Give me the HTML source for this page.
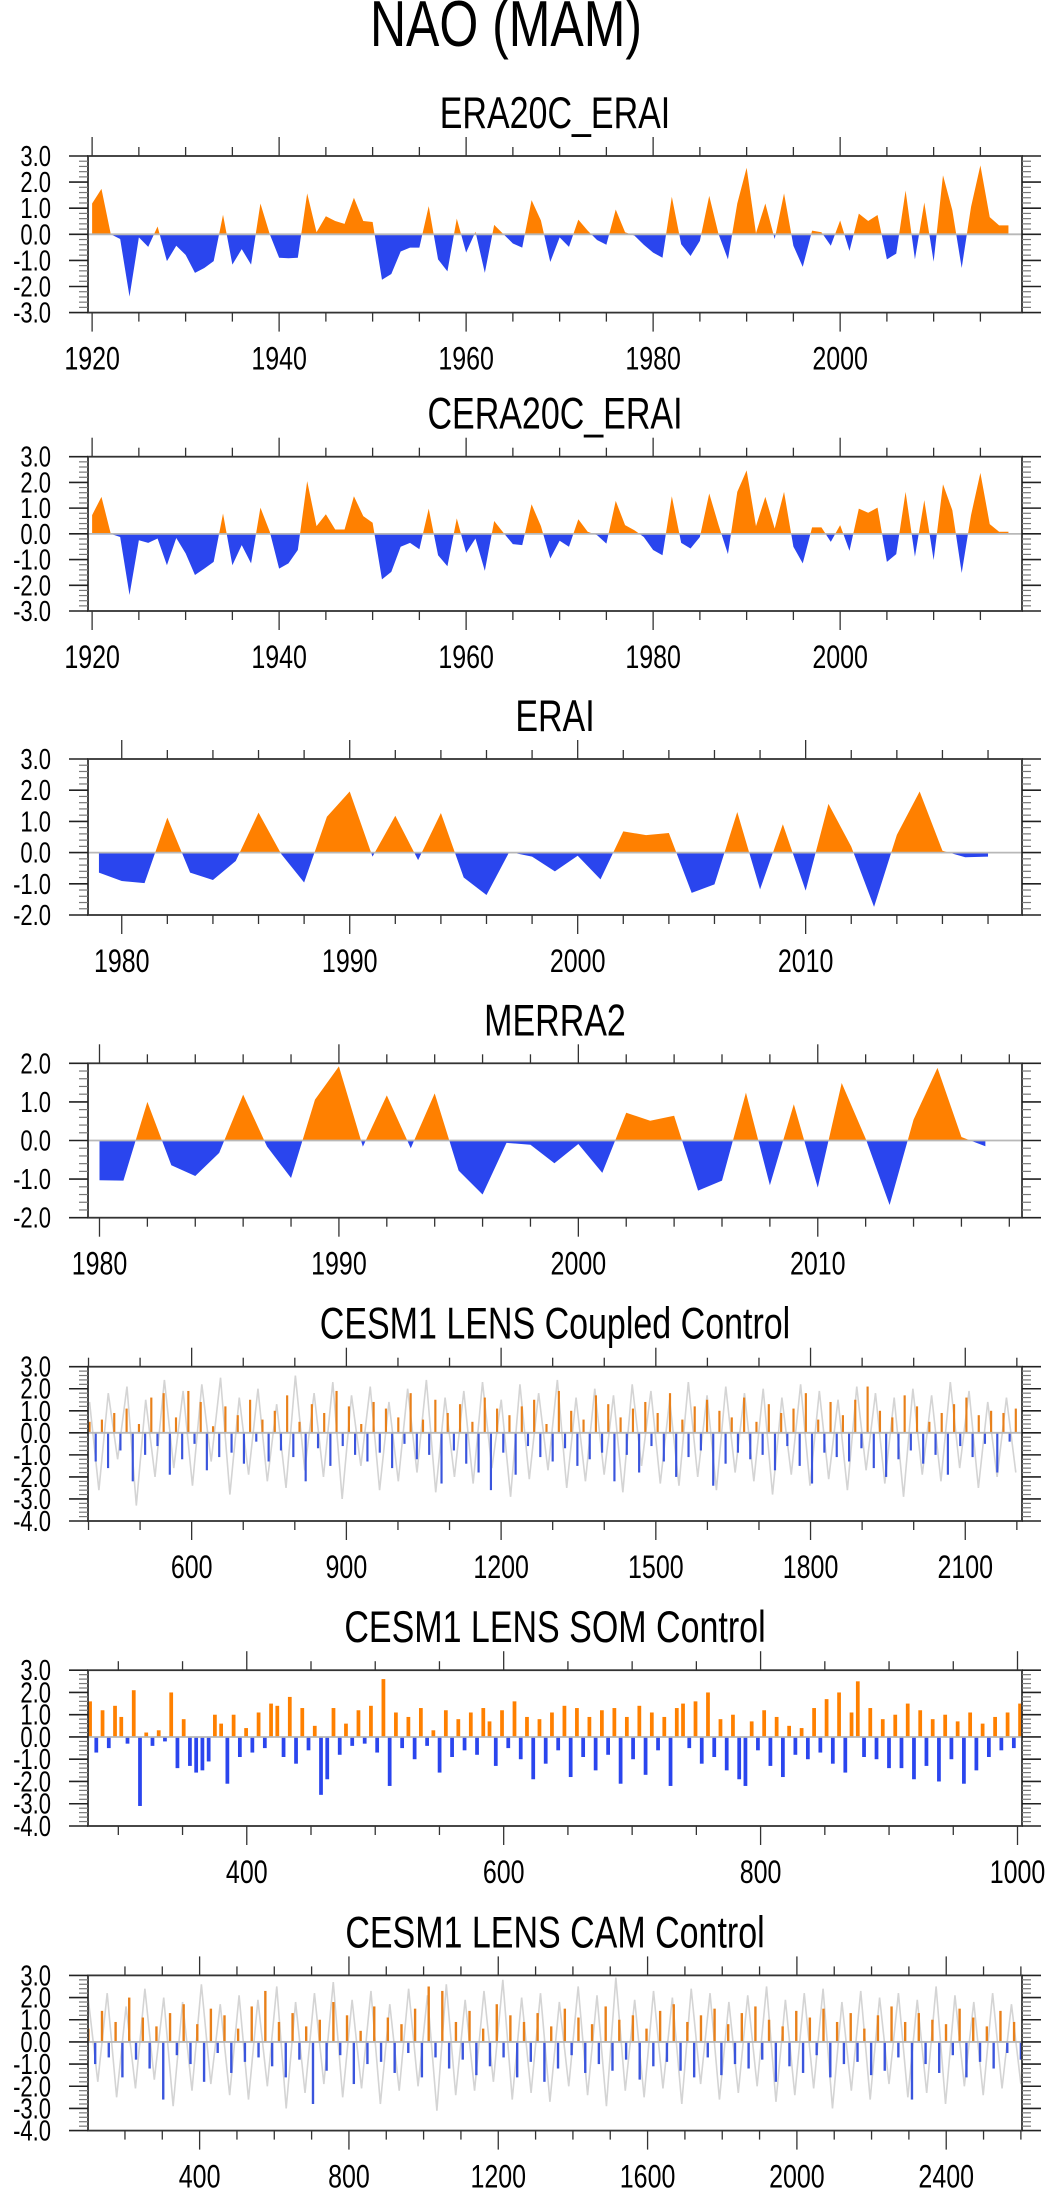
<!DOCTYPE html>
<html><head><meta charset="utf-8"><style>
html,body{margin:0;padding:0;background:#fff;}
svg{display:block;font-family:"Liberation Sans",Arial,sans-serif;}
</style></head><body>
<svg id="fig" width="1049" height="2192" viewBox="0 0 1049 2192" xmlns="http://www.w3.org/2000/svg">
<text transform="translate(506,46) scale(1,1.3)" font-size="50" text-anchor="middle">NAO (MAM)</text>
</svg>
<script>
// ---------- data ----------
const era20cStart = 1920;
const era20cValues = [1.18,1.74,0,-0.18,-2.39,-0.12,-0.48,0.3,-1.03,-0.44,-0.79,-1.48,-1.29,-1.03,0.75,-1.16,-0.57,-1.16,1.18,0,-0.9,-0.92,-0.9,1.57,0.08,0.69,0.51,0.4,1.4,0.51,0.47,-1.74,-1.52,-0.66,-0.51,-0.51,1.08,-0.96,-1.42,0.6,-0.7,0.1,-1.48,0.36,0,-0.35,-0.51,1.31,0.53,-1.06,-0.12,-0.48,0.56,0.14,-0.22,-0.4,0.95,0.08,-0.05,-0.4,-0.7,-0.9,1.44,-0.38,-0.83,-0.25,1.47,0,-0.96,1.18,2.55,0.04,1.18,-0.18,1.57,-0.44,-1.25,0.14,0.08,-0.44,0.53,-0.64,0.79,0.51,0.74,-0.96,-0.74,1.68,-0.96,1.22,-1.05,2.26,0.92,-1.29,1.05,2.64,0.66,0.34,0.34];
const cera20cStart = 1920;
const cera20cValues = [0.73,1.44,0,-0.12,-2.38,-0.25,-0.35,-0.18,-1.22,-0.16,-0.76,-1.6,-1.35,-1.09,0.79,-1.22,-0.44,-1.15,1.02,0.08,-1.35,-1.15,-0.63,2.05,0.3,0.76,0.17,0.17,1.46,0.69,0.43,-1.77,-1.48,-0.5,-0.35,-0.6,0.98,-0.83,-1.26,0.6,-0.74,-0.18,-1.44,0.5,0.04,-0.4,-0.44,1.15,0.3,-0.96,-0.27,-0.5,0.57,0.08,-0.05,-0.38,1.28,0.34,0.14,-0.12,-0.63,-0.83,1.46,-0.35,-0.57,-0.12,1.57,0.34,-0.79,1.63,2.47,0.3,1.44,0.21,1.63,-0.5,-1.15,0.25,0.25,-0.31,0.34,-0.66,0.98,0.82,1.02,-1.09,-0.79,1.63,-0.89,1.31,-1.02,1.93,0.92,-1.52,0.73,2.37,0.38,0.08,0.08];
const eraiStart = 1979;
const eraiValues = [-0.64,-0.91,-0.98,1.12,-0.64,-0.88,-0.27,1.28,-0.05,-0.96,1.15,1.96,-0.13,1.18,-0.24,1.27,-0.8,-1.36,0.02,-0.13,-0.6,-0.1,-0.86,0.68,0.56,0.63,-1.29,-1.02,1.3,-1.18,0.91,-1.22,1.56,0.19,-1.74,0.57,1.96,0.06,-0.15,-0.13];
const merra2Start = 1980;
const merra2Values = [-1.03,-1.04,1.0,-0.64,-0.92,-0.32,1.19,-0.16,-0.97,1.06,1.92,-0.16,1.17,-0.2,1.22,-0.78,-1.4,-0.06,-0.11,-0.59,-0.09,-0.84,0.72,0.51,0.64,-1.3,-1.04,1.24,-1.16,0.94,-1.22,1.49,0.05,-1.67,0.54,1.88,0.09,-0.15];

const coupledYears = [402, 2198];
const coupledValues = [0.5,-1.3,0.6,-1.6,0.9,-0.8,1.1,-2.2,0.4,-1.0,1.6,-0.6,1.8,-1.9,0.7,-1.2,1.9,-0.5,1.4,-1.7,0.3,-1.1,1.2,-0.9,0.8,-1.4,1.5,-0.4,0.6,-1.3,1.0,-0.8,1.7,-1.1,0.5,-2.2,1.3,-0.7,0.9,-1.5,1.9,-0.6,1.2,-1.0,0.4,-1.3,1.4,-0.9,1.1,-1.6,0.7,-0.5,1.8,-1.2,0.6,-1.0,1.5,-2.3,0.9,-0.8,1.3,-1.4,0.5,-1.8,1.6,-2.6,1.1,-0.9,0.8,-1.9,1.2,-0.6,1.5,-1.1,0.4,-1.3,1.9,-0.7,1.0,-1.5,0.6,-1.2,1.7,-0.9,1.3,-2.2,0.7,-1.0,1.1,-1.8,1.4,-0.6,0.9,-1.3,1.8,-2.0,0.6,-1.1,1.2,-0.8,1.5,-2.4,1.0,-1.4,0.7,-0.9,1.6,-1.2,0.5,-1.0,1.3,-1.7,0.9,-0.6,1.1,-1.5,1.8,-2.3,0.6,-0.9,1.4,-1.1,0.8,-1.3,1.5,-0.7,2.1,-1.6,1.0,-2.0,0.7,-1.2,1.7,-0.8,1.2,-1.4,0.5,-1.0,0.9,-1.9,1.3,-0.6,1.6,-1.1,0.8,-0.5,1.0,-1.8,0.9,-0.4,1.1];
const coupledGray = [1.4,-2.6,1.8,-1.2,2.1,-3.3,1.5,-2.0,2.4,-1.6,1.9,-2.4,2.2,-1.3,2.5,-2.8,1.6,-1.9,2.0,-2.2,1.3,-2.5,2.6,-1.7,1.8,-2.0,2.3,-3.0,1.7,-1.5,2.1,-2.6,1.4,-2.2,2.0,-1.8,2.4,-2.7,1.6,-2.0,1.9,-2.3,2.3,-1.6,1.5,-2.9,2.2,-2.1,1.8,-1.7,2.4,-2.5,1.6,-2.2,2.0,-1.9,1.7,-2.7,2.2,-1.5,1.9,-2.3,1.5,-2.4,2.3,-2.0,1.7,-2.6,2.1,-1.8,1.8,-2.2,2.0,-2.8,1.6,-1.9,2.2,-2.4,1.9,-2.1,1.5,-2.6,2.1,-1.7,1.8,-2.3,1.6,-2.9,2.0,-1.9,1.7,-2.2,2.3,-1.6,1.9,-2.5,1.4,-2.0,1.6,-1.8];

const somYears = [278, 1002];
const somValues = [1.6,-0.7,1.2,-0.5,1.4,0.9,-0.3,2.1,-3.1,0.2,-0.4,0.3,-0.2,2.0,-1.4,0.8,-1.3,-1.6,-1.5,-1.1,1.0,0.6,-2.1,1.0,-0.9,0.4,-0.7,1.1,-0.5,1.5,1.4,-0.9,1.8,-1.2,1.3,-0.6,0.5,-2.6,-1.9,1.3,-0.8,0.6,-0.4,1.2,-0.3,1.4,-0.7,2.6,-2.2,1.1,-0.5,0.9,-1.0,1.3,-0.4,0.3,-1.6,1.2,-0.9,0.8,-0.6,1.1,-0.8,1.3,0.7,-1.3,1.2,-0.5,1.6,-1.0,0.9,-1.9,0.8,-1.2,1.1,-0.6,1.4,-1.8,1.3,-0.9,0.9,-1.5,1.2,-0.8,1.3,-2.1,0.9,-1.0,1.4,-1.7,1.1,-0.6,0.9,-2.2,1.3,1.5,-0.5,1.6,-1.2,2.0,-0.9,0.8,-1.5,1.0,-1.9,-2.2,0.7,-0.6,1.2,-1.3,0.9,-1.8,0.5,-0.8,0.4,-1.0,1.3,-0.7,1.7,-1.2,2.0,-1.6,1.1,2.5,-0.9,1.3,-1.0,0.8,-1.4,1.0,-1.4,1.5,-1.9,1.2,-1.3,0.8,-2.0,1.0,-1.0,0.7,-2.1,1.1,-1.5,0.6,-0.9,0.9,-0.6,1.1,-0.5,1.5];

const camYears = [102, 2600];
const camValues = [0.6,-1.0,1.4,-0.7,0.9,-1.6,2.0,-0.8,1.1,-1.2,0.7,-2.6,1.3,-0.6,1.7,-1.0,0.8,-1.8,1.5,-0.5,1.2,-1.4,0.6,-0.9,1.6,-0.7,2.3,-1.1,0.9,-1.6,1.3,-0.8,0.7,-2.8,1.0,-1.3,1.8,-0.6,1.2,-1.9,0.5,-1.0,1.6,-0.9,1.1,-1.4,0.8,-0.5,1.5,-1.6,2.5,-0.7,2.3,-1.2,0.9,-0.8,1.4,-1.5,0.6,-1.1,1.7,-0.7,1.2,-1.6,0.9,-0.9,1.3,-1.8,0.7,-1.2,1.5,-0.6,1.1,-1.4,0.8,-1.0,1.6,-1.3,1.0,-0.8,1.2,-1.7,0.6,-1.1,1.4,-0.9,1.7,-1.3,0.9,-1.6,1.2,-0.7,1.5,-1.5,0.8,-1.0,1.3,-1.2,1.6,-0.8,1.0,-1.8,0.7,-1.1,1.4,-1.4,1.1,-0.6,1.5,-1.6,0.9,-1.0,1.3,-0.9,0.6,-1.5,1.2,-1.3,1.6,-0.7,0.9,-2.6,1.3,-1.0,1.0,-1.4,0.8,-0.6,1.5,-1.6,1.1,-0.9,0.7,-1.2,1.4,-0.5,0.9,-0.8];
const camGray = [1.9,-1.8,2.2,-2.5,1.6,-2.1,2.4,-1.7,2.0,-2.9,1.8,-2.2,2.6,-1.9,1.7,-2.4,2.1,-2.6,1.9,-2.0,2.5,-3.0,1.8,-2.3,2.2,-1.9,2.7,-2.5,1.9,-2.1,2.3,-2.8,1.7,-2.2,2.4,-2.0,2.1,-3.1,2.6,-2.4,1.9,-2.2,2.3,-1.8,2.8,-2.6,2.0,-2.3,2.2,-2.7,1.8,-2.0,2.5,-2.4,2.1,-2.9,2.9,-2.2,1.9,-2.5,2.3,-2.1,2.0,-2.8,2.4,-1.9,2.2,-2.6,1.8,-2.3,2.1,-2.0,2.5,-2.7,1.9,-2.4,2.2,-2.1,2.4,-3.0,1.8,-2.2,2.3,-2.6,2.0,-1.9,2.2,-2.5,1.9,-2.3,2.5,-2.8,2.1,-2.0,1.8,-2.4,2.2,-2.1,1.7,-1.9];

const yTicks3 = ["3.0","2.0","1.0","0.0","-1.0","-2.0","-3.0"];
const yTicks4 = ["3.0","2.0","1.0","0.0","-1.0","-2.0","-3.0","-4.0"];
const yTicksErai = ["3.0","2.0","1.0","0.0","-1.0","-2.0"];
const yTicksMerra = ["2.0","1.0","0.0","-1.0","-2.0"];
const xTicksCentury = [1920,1940,1960,1980,2000];
const xTicksDecade = [1980,1990,2000,2010];
const xTicksCoupled = [600,900,1200,1500,1800,2100];
const xTicksSom = [400,600,800,1000];
const xTicksCam = [400,800,1200,1600,2000,2400];

// ---------- drawing ----------
const NS = "http://www.w3.org/2000/svg";
const svg = document.getElementById("fig");
const L = 88, R = 1022;
const ORANGE = "#ff8000", BLUE = "#2a45ee";
const TS = 1.3; // vertical text stretch
function mk(tag, attrs, parent) {
  const e = document.createElementNS(NS, tag);
  for (const k in attrs) e.setAttribute(k, attrs[k]);
  (parent || svg).appendChild(e);
  return e;
}
function txt(x, y, size, anchor, s, parent) {
  const e = mk("text", {transform: "translate(" + x.toFixed(2) + "," + y.toFixed(2) + ") scale(1," + TS + ")", "font-size": size, "text-anchor": anchor}, parent);
  e.textContent = s;
  return e;
}
let clipId = 0;
function panel(p) {
  const g = mk("g", {});
  
  
  const sx = v => L + (v - p.xmin) / (p.xmax - p.xmin) * (R - L);
  const sy = v => p.top + (p.ymax - v) / (p.ymax - p.ymin) * (p.bottom - p.top);
  const y0 = sy(0);
  const t = txt(555, p.top - 28, 34, "middle", p.title, g);
  
  

  if (p.kind === "area") {
    const pts = p.values.map((v, i) => sx(p.start + i).toFixed(2) + "," + sy(v).toFixed(2));
    const d = "M" + sx(p.start) + "," + y0 + " L" + pts.join(" L") + " L" + sx(p.start + p.values.length - 1) + "," + y0 + " Z";
    const ca = "ca" + (clipId++), cb = "cb" + (clipId++);
    const defs = mk("defs", {}, g);
    const c1 = mk("clipPath", {id: ca}, defs);
    mk("rect", {x: L, y: p.top, width: R - L, height: y0 - p.top}, c1);
    const c2 = mk("clipPath", {id: cb}, defs);
    mk("rect", {x: L, y: y0, width: R - L, height: p.bottom - y0}, c2);
    const a1 = mk("path", {d: d, fill: ORANGE, "clip-path": "url(#" + ca + ")"}, g);
    
    
    const a2 = mk("path", {d: d, fill: BLUE, "clip-path": "url(#" + cb + ")"}, g);
    
    
  } else {
    const n = p.values.length;
    const step = (p.years[1] - p.years[0]) / (n - 1);
    if (p.gray) {
      const gs = (p.years[1] - p.years[0]) / (p.gray.length - 1);
      const gp = p.gray.map((v, i) => sx(p.years[0] + i * gs).toFixed(2) + "," + sy(v).toFixed(2)).join(" ");
      const pl = mk("polyline", {points: gp, fill: "none", stroke: "#d4d4d4", "stroke-width": 1.6}, g);
      
      
    }
    const w = Math.max(1.5, (sx(p.years[0] + step) - sx(p.years[0])) * p.barFrac);
    p.values.forEach((v, i) => {
      const x = sx(p.years[0] + i * step);
      const yv = sy(v);
      const r = mk("rect", {x: (x - w / 2).toFixed(2), y: Math.min(yv, y0).toFixed(2), width: w.toFixed(2), height: Math.abs(yv - y0).toFixed(2), fill: v >= 0 ? p.or : p.bl}, g);
      
      
    });
  }
  const zl = mk("line", {x1: L, x2: R, y1: y0, y2: y0, stroke: "#b8b8b8", "stroke-width": 1.8}, g);
  
  
  const fr = mk("rect", {x: L, y: p.top, width: R - L, height: p.bottom - p.top, fill: "none", stroke: "#333", "stroke-width": 1.8}, g);
  
  
  for (let v = p.ymin; v <= p.ymax + 1e-9; v += 0.2) {
    const yy = sy(v);
    const major = Math.abs(v - Math.round(v)) < 1e-6;
    const len = major ? 19 : 9;
    mk("line", {x1: L - len, x2: L, y1: yy, y2: yy, stroke: major ? "#222" : "#777", "stroke-width": major ? 1.6 : 1.2}, g);
    mk("line", {x1: R, x2: R + len, y1: yy, y2: yy, stroke: major ? "#222" : "#777", "stroke-width": major ? 1.6 : 1.2}, g);
  }
  p.yLabels.forEach(s => {
    const yl = txt(51, sy(parseFloat(s)) + 10, 22, "end", s, g);
    
    
  });
  const first = Math.ceil(p.xmin / p.minor) * p.minor;
  for (let v = first; v <= p.xmax; v += p.minor) {
    const xx = sx(v);
    const major = Math.abs(v / p.major - Math.round(v / p.major)) < 1e-6;
    const len = major ? 19 : 9;
    mk("line", {x1: xx, x2: xx, y1: p.top - len, y2: p.top, stroke: "#333", "stroke-width": 1.3}, g);
    mk("line", {x1: xx, x2: xx, y1: p.bottom, y2: p.bottom + len, stroke: "#333", "stroke-width": 1.3}, g);
  }
  p.xLabels.forEach(v => {
    const xl = txt(sx(v), p.bottom + 57, 25, "middle", String(v), g);
    
    
  });
}

panel({name: "era20c-erai-panel", title: "ERA20C_ERAI", kind: "area", start: era20cStart, values: era20cValues,
  top: 156, bottom: 312.6, ymin: -3, ymax: 3, xmin: 1919.56, xmax: 2019.45, minor: 5, major: 20, yLabels: yTicks3, xLabels: xTicksCentury});
panel({name: "cera20c-erai-panel", title: "CERA20C_ERAI", kind: "area", start: cera20cStart, values: cera20cValues,
  top: 456.7, bottom: 611, ymin: -3, ymax: 3, xmin: 1919.56, xmax: 2019.45, minor: 5, major: 20, yLabels: yTicks3, xLabels: xTicksCentury});
panel({name: "erai-panel", title: "ERAI", kind: "area", start: eraiStart, values: eraiValues,
  top: 759, bottom: 915, ymin: -2, ymax: 3, xmin: 1978.52, xmax: 2019.49, minor: 2, major: 10, yLabels: yTicksErai, xLabels: xTicksDecade});
panel({name: "merra2-panel", title: "MERRA2", kind: "area", start: merra2Start, values: merra2Values,
  top: 1063.3, bottom: 1217.7, ymin: -2, ymax: 2, xmin: 1979.52, xmax: 2018.53, minor: 2, major: 10, yLabels: yTicksMerra, xLabels: xTicksDecade});
panel({name: "coupled-control-panel", title: "CESM1 LENS Coupled Control", kind: "bars", years: coupledYears, values: coupledValues, gray: coupledGray, barFrac: 0.35, or: "#e8801a", bl: "#3a55dd",
  top: 1366.7, bottom: 1521, ymin: -4, ymax: 3, xmin: 399, xmax: 2210, minor: 100, major: 300, yLabels: yTicks4, xLabels: xTicksCoupled});
panel({name: "som-control-panel", title: "CESM1 LENS SOM Control", kind: "bars", years: somYears, values: somValues, gray: null, barFrac: 0.6, or: "#ff8000", bl: "#2a45ee",
  top: 1670.2, bottom: 1826, ymin: -4, ymax: 3, xmin: 276.4, xmax: 1003.5, minor: 50, major: 200, yLabels: yTicks4, xLabels: xTicksSom});
panel({name: "cam-control-panel", title: "CESM1 LENS CAM Control", kind: "bars", years: camYears, values: camValues, gray: camGray, barFrac: 0.35, or: "#e8801a", bl: "#3a55dd",
  top: 1975.4, bottom: 2130.6, ymin: -4, ymax: 3, xmin: 101, xmax: 2603, minor: 100, major: 400, yLabels: yTicks4, xLabels: xTicksCam});
</script>
</body></html>
